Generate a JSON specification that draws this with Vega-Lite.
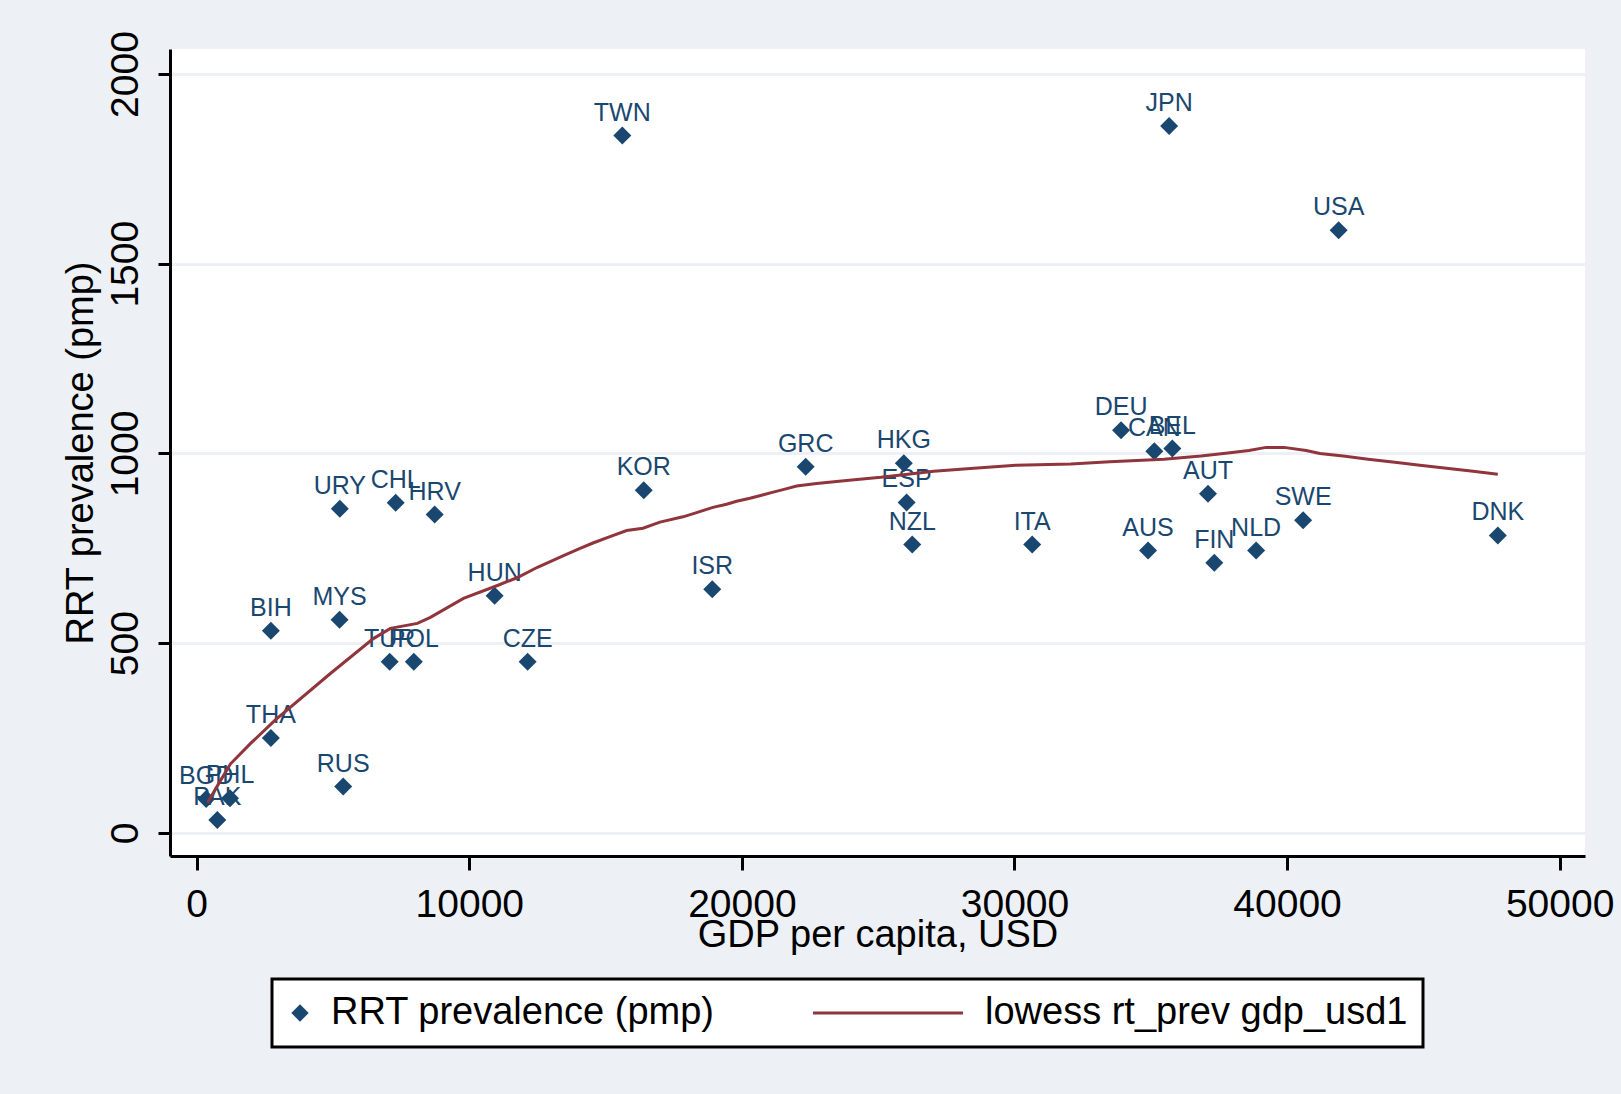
{
  "$schema": "https://vega.github.io/schema/vega-lite/v6.json",
  "width": 1415,
  "height": 807,
  "autosize": {"type": "none"},
  "padding": {"left": 170, "top": 49, "right": 36, "bottom": 238},
  "background": "#EDF1F6",
  "config": {
    "view": {"fill": "white", "stroke": null},
    "font": "Liberation Sans",
    "axis": {
      "labelFont": "Liberation Sans",
      "titleFont": "Liberation Sans",
      "labelFontSize": 39,
      "titleFontSize": 38,
      "titleFontWeight": "normal",
      "labelColor": "black",
      "titleColor": "black",
      "domainColor": "black",
      "domainWidth": 3,
      "tickColor": "black",
      "tickWidth": 3,
      "gridColor": "#EDF1F6",
      "gridWidth": 3
    },
    "legend": {
      "labelFont": "Liberation Sans",
      "labelFontSize": 38,
      "labelColor": "black",
      "labelLimit": 2000
    }
  },
  "datasets": {
    "countries": [
      {"country": "BGD", "gdp": 348, "rrt": 89},
      {"country": "PHL", "gdp": 1221, "rrt": 91},
      {"country": "PAK", "gdp": 756, "rrt": 34},
      {"country": "THA", "gdp": 2720, "rrt": 250},
      {"country": "BIH", "gdp": 2720, "rrt": 533},
      {"country": "RUS", "gdp": 5374, "rrt": 122},
      {"country": "MYS", "gdp": 5240, "rrt": 562},
      {"country": "URY", "gdp": 5250, "rrt": 854},
      {"country": "CHL", "gdp": 7300, "rrt": 870},
      {"country": "HRV", "gdp": 8730, "rrt": 839},
      {"country": "TUR", "gdp": 7080, "rrt": 451},
      {"country": "POL", "gdp": 7965, "rrt": 451},
      {"country": "HUN", "gdp": 10930, "rrt": 625},
      {"country": "CZE", "gdp": 12140, "rrt": 451},
      {"country": "TWN", "gdp": 15613, "rrt": 1838},
      {"country": "KOR", "gdp": 16400, "rrt": 903},
      {"country": "ISR", "gdp": 18912, "rrt": 642},
      {"country": "GRC", "gdp": 22340, "rrt": 965},
      {"country": "HKG", "gdp": 25940, "rrt": 974},
      {"country": "ESP", "gdp": 26043, "rrt": 871},
      {"country": "NZL", "gdp": 26250, "rrt": 760},
      {"country": "ITA", "gdp": 30650, "rrt": 760},
      {"country": "DEU", "gdp": 33910, "rrt": 1061},
      {"country": "CAN", "gdp": 35130, "rrt": 1006},
      {"country": "BEL", "gdp": 35790, "rrt": 1013},
      {"country": "JPN", "gdp": 35673, "rrt": 1863},
      {"country": "AUS", "gdp": 34900, "rrt": 744},
      {"country": "AUT", "gdp": 37100, "rrt": 894},
      {"country": "FIN", "gdp": 37330, "rrt": 712},
      {"country": "NLD", "gdp": 38865, "rrt": 744},
      {"country": "SWE", "gdp": 40590, "rrt": 824},
      {"country": "USA", "gdp": 41891, "rrt": 1588},
      {"country": "DNK", "gdp": 47731, "rrt": 784}
    ],
    "lowess": [
      {"gdp": 400, "rrt": 80},
      {"gdp": 866, "rrt": 137},
      {"gdp": 1240, "rrt": 182},
      {"gdp": 1968, "rrt": 235},
      {"gdp": 2876, "rrt": 297},
      {"gdp": 4904, "rrt": 420},
      {"gdp": 6481, "rrt": 512},
      {"gdp": 7105, "rrt": 539},
      {"gdp": 8096, "rrt": 552},
      {"gdp": 8573, "rrt": 568},
      {"gdp": 9785, "rrt": 618},
      {"gdp": 11033, "rrt": 652},
      {"gdp": 11767, "rrt": 673},
      {"gdp": 12501, "rrt": 700},
      {"gdp": 13456, "rrt": 731},
      {"gdp": 14065, "rrt": 750},
      {"gdp": 14537, "rrt": 764},
      {"gdp": 15160, "rrt": 781},
      {"gdp": 15773, "rrt": 797},
      {"gdp": 16370, "rrt": 803},
      {"gdp": 16995, "rrt": 819},
      {"gdp": 17838, "rrt": 833},
      {"gdp": 18340, "rrt": 844},
      {"gdp": 18938, "rrt": 858},
      {"gdp": 19440, "rrt": 866},
      {"gdp": 19807, "rrt": 874},
      {"gdp": 20296, "rrt": 882},
      {"gdp": 20725, "rrt": 890},
      {"gdp": 21150, "rrt": 898},
      {"gdp": 21579, "rrt": 906},
      {"gdp": 22008, "rrt": 914},
      {"gdp": 22742, "rrt": 921},
      {"gdp": 23842, "rrt": 929},
      {"gdp": 25095, "rrt": 937},
      {"gdp": 26086, "rrt": 945},
      {"gdp": 27040, "rrt": 953},
      {"gdp": 28510, "rrt": 961},
      {"gdp": 30050, "rrt": 969},
      {"gdp": 32070, "rrt": 972},
      {"gdp": 33500, "rrt": 978},
      {"gdp": 35482, "rrt": 985},
      {"gdp": 36840, "rrt": 993},
      {"gdp": 37830, "rrt": 1001},
      {"gdp": 38600, "rrt": 1008},
      {"gdp": 39230, "rrt": 1016},
      {"gdp": 39890, "rrt": 1016},
      {"gdp": 40700, "rrt": 1008},
      {"gdp": 41203, "rrt": 1000},
      {"gdp": 42060, "rrt": 993},
      {"gdp": 42975, "rrt": 985},
      {"gdp": 43954, "rrt": 977},
      {"gdp": 44871, "rrt": 969},
      {"gdp": 45850, "rrt": 961},
      {"gdp": 46826, "rrt": 953},
      {"gdp": 47731, "rrt": 945}
    ]
  },
  "encoding": {
    "x": {
      "field": "gdp",
      "type": "quantitative",
      "scale": {"domain": [-980, 50930], "nice": false, "zero": false},
      "axis": {
        "title": "GDP per capita, USD",
        "values": [0, 10000, 20000, 30000, 40000, 50000],
        "format": "d",
        "grid": false,
        "tickSize": 14,
        "labelPadding": 15,
        "labelFlush": false,
        "labelOverlap": false,
        "titlePadding": -8
      }
    },
    "y": {
      "field": "rrt",
      "type": "quantitative",
      "scale": {"domain": [-61, 2066], "nice": false, "zero": false},
      "axis": {
        "title": "RRT prevalence (pmp)",
        "values": [0, 500, 1000, 1500, 2000],
        "format": "d",
        "grid": true,
        "tickSize": 12,
        "labelAngle": -90,
        "labelAlign": "center",
        "labelBaseline": "bottom",
        "labelPadding": 13,
        "labelOverlap": false,
        "titlePadding": 6
      }
    }
  },
  "layer": [
    {
      "data": {"name": "countries"},
      "mark": {"type": "point", "shape": "diamond", "filled": true, "size": 324, "opacity": 1},
      "encoding": {
        "color": {
          "datum": "RRT prevalence (pmp)",
          "type": "nominal",
          "scale": {"domain": ["RRT prevalence (pmp)", "lowess rt_prev gdp_usd1"], "range": ["#1a476f", "#90353b"]},
          "legend": {
            "title": null,
            "orient": "none",
            "legendX": 102,
            "legendY": 930,
            "direction": "horizontal",
            "strokeColor": "black",
            "fillColor": "white",
            "padding": 15,
            "columnPadding": 92,
            "symbolSize": 300,
            "encode": {
              "legend": {"update": {"strokeWidth": {"value": 3}}},
              "symbols": {
                "update": {
                  "shape": {"signal": "datum.value === 'RRT prevalence (pmp)' ? 'diamond' : 'stroke'"},
                  "size": {"signal": "datum.value === 'RRT prevalence (pmp)' ? 300 : 22500"},
                  "x": {"signal": "datum.value === 'RRT prevalence (pmp)' ? 13 : 75"},
                  "fill": {"signal": "datum.value === 'RRT prevalence (pmp)' ? '#1a476f' : 'transparent'"},
                  "stroke": {"signal": "datum.value === 'RRT prevalence (pmp)' ? 'transparent' : '#90353b'"},
                  "strokeWidth": {"signal": "datum.value === 'RRT prevalence (pmp)' ? 0 : 3"},
                  "opacity": {"value": 1}
                }
              },
              "labels": {
                "update": {
                  "x": {"signal": "datum.value === 'RRT prevalence (pmp)' ? 44 : 172"},
                  "text": {"signal": "datum.value === 'lowess rt_prev gdp_usd1' ? datum.label + '\u00a0\u00a0\u00a0\u00a0\u00a0\u00a0' : datum.label"}
                }
              }
            }
          }
        }
      }
    },
    {
      "data": {"name": "countries"},
      "mark": {"type": "text", "dy": -15, "baseline": "alphabetic", "align": "center", "font": "Liberation Sans", "fontSize": 25, "color": "#1a476f"},
      "encoding": {"text": {"field": "country", "type": "nominal"}}
    },
    {
      "data": {"name": "lowess"},
      "mark": {"type": "line", "strokeWidth": 3, "interpolate": "linear"},
      "encoding": {
        "color": {
          "datum": "lowess rt_prev gdp_usd1",
          "type": "nominal",
          "legend": {
            "title": null,
            "orient": "none",
            "legendX": 102,
            "legendY": 930,
            "direction": "horizontal",
            "strokeColor": "black",
            "fillColor": "white",
            "padding": 15,
            "columnPadding": 92,
            "symbolSize": 300,
            "encode": {
              "legend": {"update": {"strokeWidth": {"value": 3}}},
              "symbols": {
                "update": {
                  "shape": {"signal": "datum.value === 'RRT prevalence (pmp)' ? 'diamond' : 'stroke'"},
                  "size": {"signal": "datum.value === 'RRT prevalence (pmp)' ? 300 : 22500"},
                  "x": {"signal": "datum.value === 'RRT prevalence (pmp)' ? 13 : 75"},
                  "fill": {"signal": "datum.value === 'RRT prevalence (pmp)' ? '#1a476f' : 'transparent'"},
                  "stroke": {"signal": "datum.value === 'RRT prevalence (pmp)' ? 'transparent' : '#90353b'"},
                  "strokeWidth": {"signal": "datum.value === 'RRT prevalence (pmp)' ? 0 : 3"},
                  "opacity": {"value": 1}
                }
              },
              "labels": {
                "update": {
                  "x": {"signal": "datum.value === 'RRT prevalence (pmp)' ? 44 : 172"},
                  "text": {"signal": "datum.value === 'lowess rt_prev gdp_usd1' ? datum.label + '\u00a0\u00a0\u00a0\u00a0\u00a0\u00a0' : datum.label"}
                }
              }
            }
          }
        },
        "order": {"field": "gdp", "type": "quantitative"}
      }
    }
  ]
}
